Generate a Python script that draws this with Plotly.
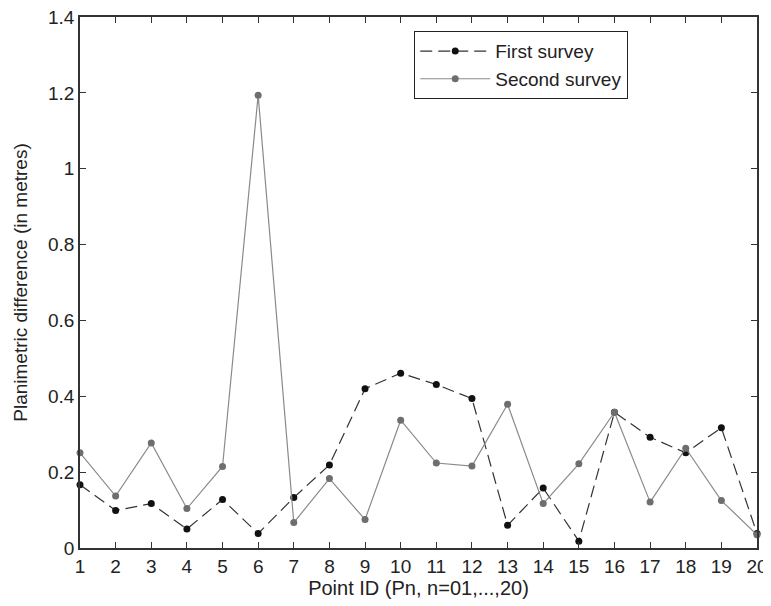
import plotly.graph_objects as go

point_ids = list(range(1, 21))
first_survey = [0.167, 0.099, 0.117, 0.050, 0.128, 0.038, 0.133, 0.219, 0.420, 0.461,
                0.431, 0.394, 0.060, 0.158, 0.018, 0.358, 0.292, 0.251, 0.317, 0.038]
second_survey = [0.251, 0.137, 0.277, 0.104, 0.215, 1.194, 0.067, 0.183, 0.075, 0.337,
                 0.224, 0.216, 0.379, 0.117, 0.222, 0.358, 0.121, 0.263, 0.125, 0.035]
y_ticks = [0, 0.2, 0.4, 0.6, 0.8, 1, 1.2, 1.4]

FONT = "Liberation Sans, Arial, sans-serif"

fig = go.Figure()
fig.add_trace(go.Scatter(
    x=point_ids, y=first_survey, name="First survey", mode="lines+markers",
    line=dict(color="#333333", width=1.2, dash="12px,6px"),
    marker=dict(color="#111111", size=7, symbol="circle"),
    cliponaxis=False,
))
fig.add_trace(go.Scatter(
    x=point_ids, y=second_survey, name="Second survey", mode="lines+markers",
    line=dict(color="#8a8a8a", width=1.2),
    marker=dict(color="#6e6e6e", size=7, symbol="circle"),
    cliponaxis=False,
))

axis_common = dict(
    showline=True, linecolor="#333333", linewidth=1.5, mirror="ticks",
    ticks="inside", ticklen=6, tickwidth=1.2, tickcolor="#333333",
    showgrid=False, zeroline=False, automargin=False,
    ticklabeloverflow="allow",
    tickfont=dict(family=FONT, size=19, color="#222222"),
)

# The page body has an 8px margin, so the figure is sized to fit inside the window.
fig.update_layout(
    width=763, height=598,
    paper_bgcolor="white", plot_bgcolor="white",
    margin=dict(l=72, r=14, t=9, b=58),
    font=dict(family=FONT, color="#222222"),
    xaxis=dict(
        range=[1, 20], tickvals=point_ids,
        title=dict(text="Point ID (Pn, n=01,...,20)", font=dict(family=FONT, size=20), standoff=2),
        **axis_common,
    ),
    yaxis=dict(
        range=[0, 1.4], tickvals=y_ticks,
        title=dict(text="Planimetric difference (in metres)", font=dict(family=FONT, size=19)),
        **axis_common,
    ),
    legend=dict(
        x=0.4934, y=0.9736, xanchor="left", yanchor="top",
        bgcolor="white", bordercolor="#222222", borderwidth=1.2,
        font=dict(family=FONT, size=19, color="#222222"),
        tracegroupgap=0, itemwidth=70,
    ),
)

fig.write_html("out.html")
